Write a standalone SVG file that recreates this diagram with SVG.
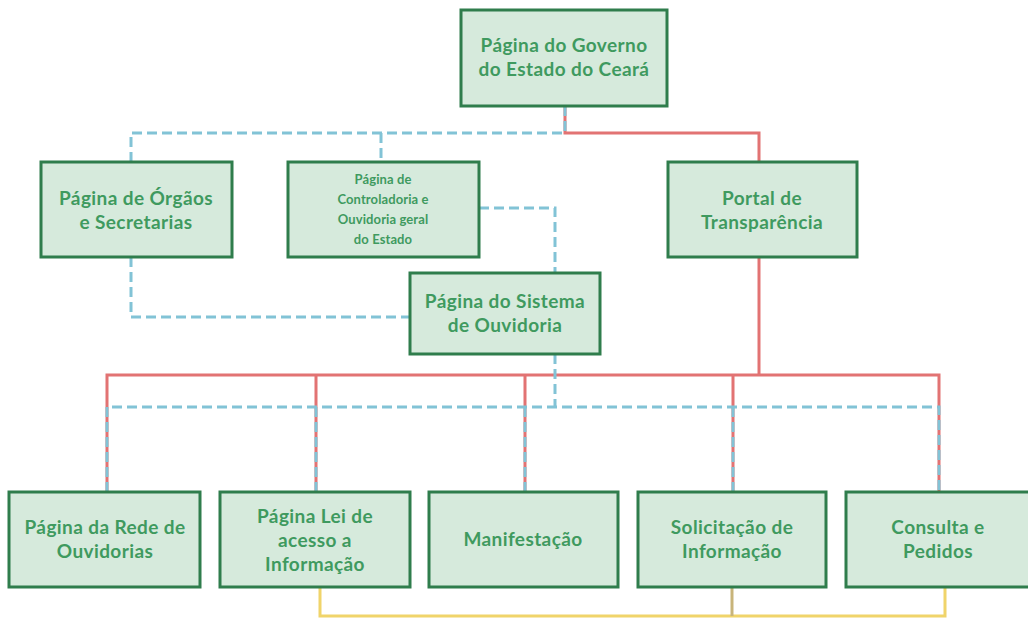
<svg xmlns="http://www.w3.org/2000/svg" width="1028" height="619" viewBox="0 0 1028 619">
  <style>
    .box { fill: #d6eadc; stroke: #2f7d4c; stroke-width: 3; }
    .lbl { font-family: Lato, "Liberation Sans", sans-serif; font-weight: bold; font-size: 19px; letter-spacing: 0.4px; fill: #3f9a5f; text-anchor: middle; }
    .sm { font-size: 13px; letter-spacing: 0.1px; }
    .red { fill: none; stroke: #e27373; stroke-width: 3; }
    .blue { fill: none; stroke: #82c3d6; stroke-width: 3; stroke-dasharray: 10 5; }
    .yel { fill: none; stroke: #f0d46a; stroke-width: 3; }
    .tan { fill: none; stroke: #c8b47a; stroke-width: 3; }
  </style>
  <rect width="1028" height="619" fill="#ffffff"/>

  <g id="connectors">
    <!-- solid hierarchy -->
    <path class="red" d="M565 106 V133 H759 V162"/>
    <path class="red" d="M759 257 V375"/>
    <path class="red" d="M107 492 V375 H939 V492"/>
    <path class="red" d="M316 375 V492 M525 375 V492 M733 375 V492"/>
    <!-- dashed links -->
    <path class="blue" d="M565 106 V133 H131 V162"/>
    <path class="blue" d="M381 133 V162"/>
    <path class="blue" d="M131 257 V317 H410"/>
    <path class="blue" d="M479 208 H555 V273"/>
    <path class="blue" d="M555 354 V407"/>
    <path class="blue" d="M107 492 V407 H939 V492"/>
    <path class="blue" d="M316 407 V492 M525 407 V492 M733 407 V492"/>
    <!-- bottom links -->
    <path class="yel" d="M320 587 V616 H945 V587"/>
    <path class="tan" d="M732 587 V616"/>
  </g>

  <g id="governo">
    <rect class="box" x="461" y="10" width="206" height="96"/>
    <text class="lbl" x="564" y="52">Página do Governo</text>
    <text class="lbl" x="564" y="76">do Estado do Ceará</text>
  </g>

  <g id="orgaos">
    <rect class="box" x="41" y="162" width="191" height="95"/>
    <text class="lbl" x="136" y="205">Página de Órgãos</text>
    <text class="lbl" x="136" y="229">e Secretarias</text>
  </g>

  <g id="controladoria">
    <rect class="box" x="288" y="162" width="191" height="95"/>
    <text class="lbl sm" x="383" y="184">Página de</text>
    <text class="lbl sm" x="383" y="204">Controladoria e</text>
    <text class="lbl sm" x="383" y="224">Ouvidoria geral</text>
    <text class="lbl sm" x="383" y="244">do Estado</text>
  </g>

  <g id="portal">
    <rect class="box" x="668" y="162" width="189" height="95"/>
    <text class="lbl" x="762" y="205">Portal de</text>
    <text class="lbl" x="762" y="229">Transparência</text>
  </g>

  <g id="sistema">
    <rect class="box" x="410" y="273" width="190" height="81"/>
    <text class="lbl" x="505" y="308">Página do Sistema</text>
    <text class="lbl" x="505" y="332">de Ouvidoria</text>
  </g>

  <g id="rede">
    <rect class="box" x="9" y="492" width="191" height="95"/>
    <text class="lbl" x="105" y="534">Página da Rede de</text>
    <text class="lbl" x="105" y="558">Ouvidorias</text>
  </g>

  <g id="lei">
    <rect class="box" x="220" y="492" width="190" height="95"/>
    <text class="lbl" x="315" y="523">Página Lei de</text>
    <text class="lbl" x="315" y="547">acesso a</text>
    <text class="lbl" x="315" y="571">Informação</text>
  </g>

  <g id="manifestacao">
    <rect class="box" x="429" y="492" width="189" height="95"/>
    <text class="lbl" x="523" y="546">Manifestação</text>
  </g>

  <g id="solicitacao">
    <rect class="box" x="638" y="492" width="188" height="95"/>
    <text class="lbl" x="732" y="534">Solicitação de</text>
    <text class="lbl" x="732" y="558">Informação</text>
  </g>

  <g id="consulta">
    <rect class="box" x="846" y="492" width="188" height="95"/>
    <text class="lbl" x="938" y="534">Consulta e</text>
    <text class="lbl" x="938" y="558">Pedidos</text>
  </g>
</svg>
